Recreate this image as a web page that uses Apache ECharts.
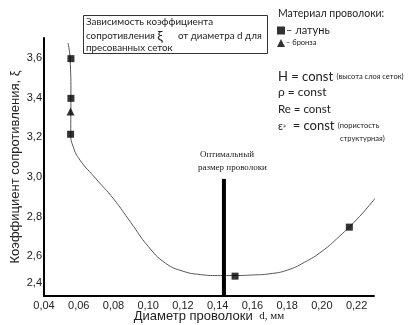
<!DOCTYPE html>
<html>
<head>
<meta charset="utf-8">
<script src="https://cdn.jsdelivr.net/npm/echarts@6/dist/echarts.min.js"></script>
<style>html,body{margin:0;padding:0;background:#fff}#c{width:411px;height:325px}</style>
</head>
<body>
<div id="c"></div>
<script>
// ---- data ----
const curveX = [0.0538, 0.0550, 0.0555, 0.0554, 0.0569, 0.0607, 0.07, 0.08, 0.09, 0.10, 0.11, 0.12, 0.13, 0.14, 0.15, 0.16, 0.17, 0.18, 0.19, 0.20, 0.21, 0.22, 0.23, 0.24];
const curveY = [3.675, 3.60, 3.40, 3.215, 3.15, 3.085, 2.99, 2.89, 2.77, 2.65, 2.565, 2.525, 2.508, 2.503, 2.503, 2.506, 2.512, 2.53, 2.57, 2.625, 2.70, 2.785, 2.885, 2.99];
const brassX = [0.0555, 0.0555, 0.0553, 0.1500, 0.2158];
const brassY = [3.596, 3.396, 3.215, 2.50, 2.747];
const bronzeX = [0.0553];
const bronzeY = [3.33];
const optimumX = 0.1436;
const optimumY = [2.40, 2.99];
const xTicks = { min: 0.04, max: 0.23, step: 0.02 };
const yTicks = { min: 2.4, max: 3.7, step: 0.2 };

const zip = (a, b) => a.map((v, i) => [v, b[i]]);
const comma = (v, d) => v.toFixed(d).replace('.', ',');

const chart = echarts.init(document.getElementById('c'), null, { renderer: 'canvas' });
const SANS = 'Lato';
chart.setOption({
  animation: false,
  backgroundColor: '#fff',
  grid: { left: 44, right: 37, top: 38, bottom: 29, outerBoundsMode: 'none', containLabel: false },
  xAxis: {
    type: 'value', min: xTicks.min, max: xTicks.max, interval: xTicks.step,
    splitLine: { show: false },
    axisLine: { show: true, lineStyle: { color: '#000', width: 2 } },
    axisTick: { show: false },
    axisLabel: { showMaxLabel: false, margin: 4, color: '#222', fontFamily: 'Liberation Sans', fontSize: 11,
      formatter: v => comma(v, 2) },
    name: '{a|Диаметр проволоки}  {b|d, мм}',
    nameLocation: 'middle', nameGap: 14, nameMoveOverlap: false,
    nameTextStyle: { rich: {
      a: { fontFamily: 'Liberation Sans', fontSize: 13, color: '#222' },
      b: { fontFamily: 'Liberation Serif', fontSize: 11, color: '#222' } } }
  },
  yAxis: {
    type: 'value', min: yTicks.min, max: yTicks.max, interval: yTicks.step,
    splitLine: { show: false },
    axisLine: { show: true, lineStyle: { color: '#000', width: 2 } },
    axisTick: { show: false },
    axisLabel: { showMaxLabel: false, margin: 2, color: '#222', fontFamily: 'Liberation Sans', fontSize: 11,
      formatter: v => Math.abs(v - yTicks.min) < 1e-6 ? '{m|' + comma(v, 1) + '}' : comma(v, 1),
      rich: { m: { fontFamily: 'Liberation Sans', fontSize: 11, color: '#222', padding: [0, 0, 26, 0] } } },
    name: 'Коэффициент сопротивления, ξ',
    nameLocation: 'middle', nameGap: 22, nameRotate: 90, nameMoveOverlap: false,
    nameTextStyle: { fontFamily: 'Liberation Sans', fontSize: 13, color: '#222' }
  },
  legend: {
    orient: 'vertical', left: 272, top: 20, itemWidth: 8, itemHeight: 8, itemGap: 3,
    selectedMode: false,
    data: [{ name: 'латунь', icon: 'rect' }, { name: 'бронза', icon: 'triangle' }],
    formatter: n => n === 'латунь' ? '{a|– латунь}' : '{b|– бронза}',
    textStyle: { padding: [0, 0, 0, -4], rich: {
      a: { fontFamily: SANS, fontSize: 11, color: '#222' },
      b: { fontFamily: SANS, fontSize: 7.5, color: '#222' } } }
  },
  series: [
    { type: 'line', name: 'curve', data: zip(curveX, curveY), smooth: 0.5,
      showSymbol: false, clip: false, lineStyle: { color: '#555', width: 1 }, z: 2 },
    { type: 'line', name: 'optimum', data: optimumY.map(y => [optimumX, y]), showSymbol: false,
      lineStyle: { color: '#000', width: 4 }, z: 3 },
    { type: 'scatter', name: 'латунь', data: zip(brassX, brassY), symbol: 'rect', symbolSize: 7,
      itemStyle: { color: '#000' }, z: 4 },
    { type: 'scatter', name: 'бронза', data: zip(bronzeX, bronzeY), symbol: 'triangle', symbolSize: 8,
      itemStyle: { color: '#000' }, z: 4 }
  ],
  graphic: [
    { type: 'rect', shape: { x: 83.5, y: 15.5, width: 184, height: 38 },
      style: { fill: '#fff', stroke: '#333', lineWidth: 1 }, z: 10 },
    { type: 'text', z: 11, style: { x: 86, y: 22, text: 'Зависимость коэффициента', font: '9.8px ' + SANS, fill: '#222', verticalAlign: 'middle' } },
    { type: 'text', z: 11, style: { x: 86, y: 36, text: '{a|сопротивления }{x|ξ}{a|      от диаметра d для}', verticalAlign: 'middle',
      rich: { a: { font: '9.8px ' + SANS, fill: '#222' }, x: { font: '14px ' + SANS, fill: '#222' } } } },
    { type: 'text', z: 11, style: { x: 86, y: 48, text: 'пресованных сеток', font: '9.8px ' + SANS, fill: '#222', verticalAlign: 'middle' } },
    { type: 'text', style: { x: 278, y: 14, text: 'Материал проволоки:', font: '10.5px ' + SANS, fill: '#222', verticalAlign: 'middle' } },
    { type: 'text', style: { x: 278, y: 77, text: '{a|H = const} {b|(высота слоя сеток)}', verticalAlign: 'middle',
      rich: { a: { font: '13px ' + SANS, fill: '#222' }, b: { font: '7.5px ' + SANS, fill: '#222' } } } },
    { type: 'text', style: { x: 278, y: 92, text: 'ρ = const', font: '12px ' + SANS, fill: '#222', verticalAlign: 'middle' } },
    { type: 'text', style: { x: 278, y: 109, text: 'Re = const', font: '11.5px ' + SANS, fill: '#222', verticalAlign: 'middle' } },
    { type: 'text', style: { x: 278, y: 126, text: '{c|ε}{s|»}{a|  = const} {b|(пористость}', verticalAlign: 'middle',
      rich: { c: { font: '11px ' + SANS, fill: '#222' }, s: { font: '7px ' + SANS, fill: '#222' },
        a: { font: '13px ' + SANS, fill: '#222' }, b: { font: '7.5px ' + SANS, fill: '#222' } } } },
    { type: 'text', style: { x: 340, y: 139, text: 'структурная)', font: '7.5px ' + SANS, fill: '#222', verticalAlign: 'middle' } },
    { type: 'text', style: { x: 200, y: 155, text: 'Оптимальный', font: '9px Liberation Serif', fill: '#222', verticalAlign: 'middle' } },
    { type: 'text', style: { x: 198, y: 168, text: 'размер проволоки', font: '9px Liberation Serif', fill: '#222', verticalAlign: 'middle' } }
  ]
});
</script>
</body>
</html>
